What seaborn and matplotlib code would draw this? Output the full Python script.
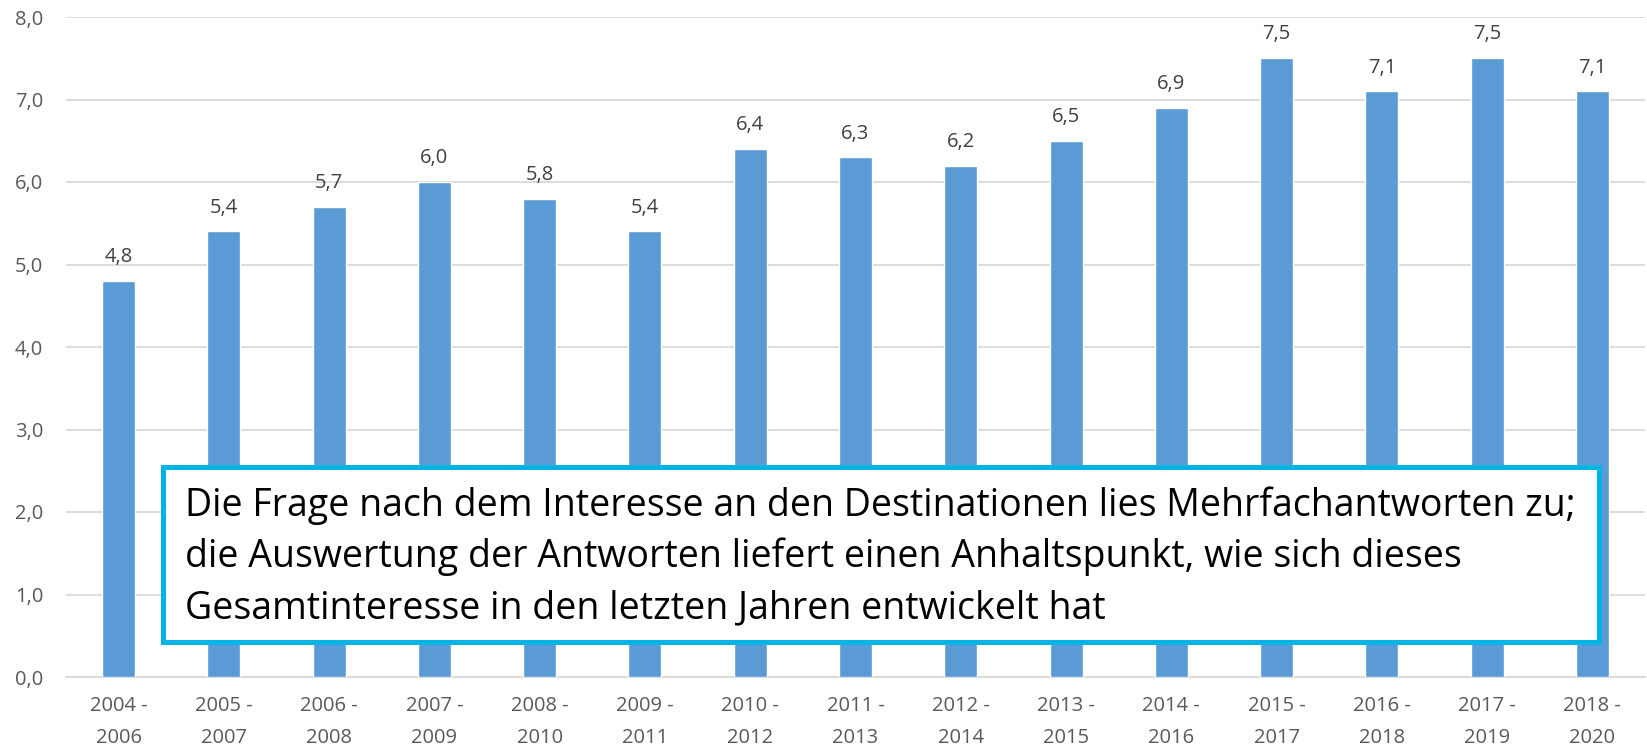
import matplotlib
matplotlib.use("Agg")
import matplotlib.pyplot as plt
import seaborn as sns
import pandas as pd
from matplotlib.patches import Rectangle

categories = ["2004 -\n2006", "2005 -\n2007", "2006 -\n2008", "2007 -\n2009", "2008 -\n2010",
              "2009 -\n2011", "2010 -\n2012", "2011 -\n2013", "2012 -\n2014", "2013 -\n2015",
              "2014 -\n2016", "2015 -\n2017", "2016 -\n2018", "2017 -\n2019", "2018 -\n2020"]
values = [4.8, 5.4, 5.7, 6.0, 5.8, 5.4, 6.4, 6.3, 6.2, 6.5, 6.9, 7.5, 7.1, 7.5, 7.1]
yticks = [0, 1, 2, 3, 4, 5, 6, 7, 8]
note_lines = ["Die Frage nach dem Interesse an den Destinationen lies Mehrfachantworten zu;",
              "die Auswertung der Antworten liefert einen Anhaltspunkt, wie sich dieses",
              "Gesamtinteresse in den letzten Jahren entwickelt hat"]

sns.set_style("white")
plt.rcParams['font.family'] = ['Open Sans', 'DejaVu Sans']

W, H = 1647, 748
fig = plt.figure(figsize=(W / 100, H / 100), dpi=100)
ax = fig.add_axes([66 / W, 1 - 677 / H, (1645 - 66) / W, (677 - 17) / H])

df = pd.DataFrame({"cat": categories, "val": values})
sns.barplot(data=df, x="cat", y="val", color="#5B9BD5", saturation=1, width=0.314, ax=ax, zorder=3)

ax.set_ylim(0, 8)
ax.set_xlim(-0.5, len(categories) - 0.5)
ax.set_yticks(yticks)
ax.set_yticklabels([f"{v:.1f}".replace(".", ",") for v in yticks])
ax.yaxis.grid(True, color="#D9D9D9", linewidth=1.3, zorder=0)
ax.set_axisbelow(True)
for s in ["top", "right", "left"]:
    ax.spines[s].set_visible(False)
ax.spines["bottom"].set_color("#D9D9D9")
ax.spines["bottom"].set_linewidth(1.3)
ax.tick_params(axis="both", length=0, labelsize=14.5, labelcolor="#595959")
ax.tick_params(axis="y", pad=16.5)
ax.tick_params(axis="x", pad=14)
ax.set_xlabel("")
ax.set_ylabel("")
for t in ax.get_xticklabels():
    t.set_linespacing(1.75)

for i, v in enumerate(values):
    ax.annotate(f"{v:.1f}".replace(".", ","), (i, v), xytext=(0, 13.5), textcoords="offset points",
                ha="center", va="baseline", fontsize=14.5, color="#404040")

# note box
bx0, bx1, by0, by1 = 163, 1599, 467, 642
fig.patches.append(Rectangle((bx0 / W, 1 - by1 / H), (bx1 - bx0) / W, (by1 - by0) / H,
                             transform=fig.transFigure, facecolor="white", edgecolor="#00B4E6",
                             linewidth=3.6, zorder=10))
baselines = [516, 567, 618]
texts = [fig.text(185 / W, 1 - b / H, line, ha="left", va="baseline", fontsize=26, color="black",
                  family=["Open Sans", "DejaVu Sans"], zorder=11)
         for line, b in zip(note_lines, baselines)]
# fit the first line to the reference width (185 -> 1579 px)
fig.canvas.draw()
r = fig.canvas.get_renderer()
w = texts[0].get_window_extent(r).width
fs = 26 * (1579 - 185) / w
for t in texts:
    t.set_fontsize(fs)

fig.savefig("out.png", dpi=100)
